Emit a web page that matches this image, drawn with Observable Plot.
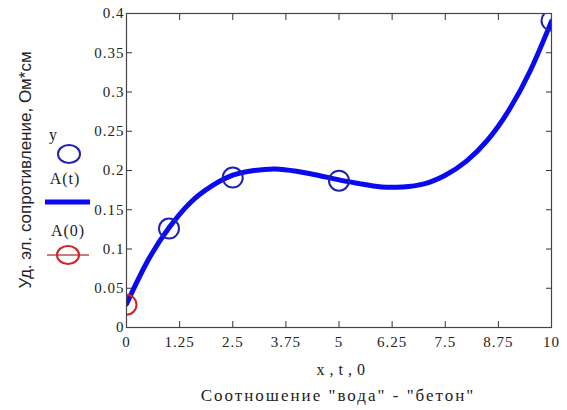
<!DOCTYPE html>
<html>
<head>
<meta charset="utf-8">
<script src="https://cdn.jsdelivr.net/npm/d3@7"></script>
<script src="https://cdn.jsdelivr.net/npm/@observablehq/plot@0.6"></script>
<style>
  html, body { margin: 0; padding: 0; background: #fff; }
</style>
</head>
<body>
<div id="chart"></div>
<script>
// measured points y
const pointX = [1, 2.5, 5, 10];
const pointY = [0.126, 0.191, 0.187, 0.391];
// A(0) marker
const a0X = [0];
const a0Y = [0.029];
// fitted curve A(t)
const curveT = [0, 0.5, 1, 1.5, 2, 2.5, 3, 3.5, 4, 4.5, 5, 5.5, 6, 6.5, 7, 7.5, 8, 8.5, 9, 9.5, 10];
const curveA = [0.030, 0.085, 0.127, 0.159, 0.180, 0.194, 0.200, 0.202, 0.199, 0.194, 0.188, 0.183, 0.179, 0.179, 0.183, 0.194, 0.212, 0.239, 0.277, 0.327, 0.390];
// ticks
const xTicks = [0, 1.25, 2.5, 3.75, 5, 6.25, 7.5, 8.75, 10];
const yTicks = [0, 0.05, 0.1, 0.15, 0.2, 0.25, 0.3, 0.35, 0.4];
const xTickLabels = ["0", "1.25", "2.5", "3.75", "5", "6.25", "7.5", "8.75", "10"];
const yTickLabels = ["0", "0.05", "0.1", "0.15", "0.2", "0.25", "0.3", "0.35", "0.4"];
// texts
const xVarLabel = "x , t , 0";
const xTitle = "Соотношение \"вода\" - \"бетон\"";
const yTitle = "Уд. эл. сопротивление, Ом*см";
const legendLabels = ["y", "A(t)", "A(0)"];

const points = pointX.map((x, i) => ({x, y: pointY[i]}));
const a0 = a0X.map((x, i) => ({x, y: a0Y[i]}));
const curve = curveT.map((t, i) => ({t, a: curveA[i]}));

const blueLine = "#0a0af0";
const blueCircle = "#1e22b0";
const red = "#d42020";
const serif = "'Liberation Serif', 'DejaVu Serif', 'Times New Roman', serif";

const chart = Plot.plot({
  width: 567,
  height: 410,
  marginLeft: 126,
  marginRight: 16,
  marginTop: 13,
  marginBottom: 83,
  style: {fontFamily: serif, fontSize: "15px", color: "#222", background: "#fff"},
  x: {domain: [0, 10]},
  y: {domain: [0, 0.4]},
  marks: [
    Plot.axisX({ticks: xTicks, tickFormat: (d) => xTickLabels[xTicks.indexOf(d)], tickSize: -6, tickPadding: 15, anchor: "bottom", label: null, stroke: "#333", fontSize: 15}),
    Plot.axisX({ticks: xTicks, tickFormat: () => "", tickSize: -6, anchor: "top", label: null, stroke: "#333"}),
    Plot.axisY({ticks: yTicks, tickFormat: (d) => yTickLabels[yTicks.indexOf(d)], tickSize: -6, tickPadding: 8, anchor: "left", label: null, stroke: "#333", fontSize: 15}),
    Plot.axisY({ticks: yTicks, tickFormat: () => "", tickSize: -6, anchor: "right", label: null, stroke: "#333"}),
    Plot.line(curve, {x: "t", y: "a", curve: "natural", stroke: blueLine, strokeWidth: 5, clip: true}),
    Plot.dot(points, {x: "x", y: "y", r: 10, stroke: blueCircle, strokeWidth: 2, clip: true}),
    Plot.dot(a0, {x: "x", y: "y", r: 10, stroke: red, strokeWidth: 2, clip: true}),
    Plot.frame({stroke: "#444", strokeWidth: 1.2})
  ]
});
document.getElementById("chart").appendChild(chart);

const svg = d3.select(chart);
svg.selectAll("text").attr("font-family", serif);
svg.selectAll("g[aria-label='x-axis tick label'] text, g[aria-label='y-axis tick label'] text")
  .style("letter-spacing", "1px");

// x variable label and title
svg.append("text").attr("x", 341).attr("y", 375).attr("text-anchor", "middle")
  .attr("font-family", serif).attr("font-size", 16).style("letter-spacing", "0.5px").attr("fill", "#222")
  .text(xVarLabel);
svg.append("text").attr("x", 338).attr("y", 401).attr("text-anchor", "middle")
  .attr("font-family", serif).attr("font-size", 17).style("letter-spacing", "2px").attr("fill", "#222")
  .text(xTitle);
// y title
svg.append("text").attr("transform", "translate(31,170) rotate(-90)").attr("text-anchor", "middle")
  .attr("font-family", "'Liberation Sans', Arial, sans-serif").attr("font-size", 17).attr("fill", "#222")
  .text(yTitle);

// legend
const lg = svg.append("g").attr("font-family", serif).attr("font-size", 16).attr("fill", "#222");
lg.append("text").attr("x", 53).attr("y", 140).attr("text-anchor", "middle").text(legendLabels[0]);
lg.append("ellipse").attr("cx", 69).attr("cy", 154).attr("rx", 11).attr("ry", 9).attr("fill", "none").attr("stroke", blueCircle).attr("stroke-width", 2);
lg.append("text").attr("x", 65).attr("y", 184).attr("text-anchor", "middle").style("letter-spacing", "1px").text(legendLabels[1]);
lg.append("line").attr("x1", 45).attr("x2", 90).attr("y1", 202).attr("y2", 202).attr("stroke", blueLine).attr("stroke-width", 5);
lg.append("text").attr("x", 68).attr("y", 236).attr("text-anchor", "middle").style("letter-spacing", "1px").text(legendLabels[2]);
lg.append("line").attr("x1", 47).attr("x2", 89).attr("y1", 255).attr("y2", 255).attr("stroke", "#b05050").attr("stroke-width", 1.5);
lg.append("ellipse").attr("cx", 68).attr("cy", 255).attr("rx", 11).attr("ry", 9).attr("fill", "none").attr("stroke", red).attr("stroke-width", 2);
</script>
</body>
</html>
